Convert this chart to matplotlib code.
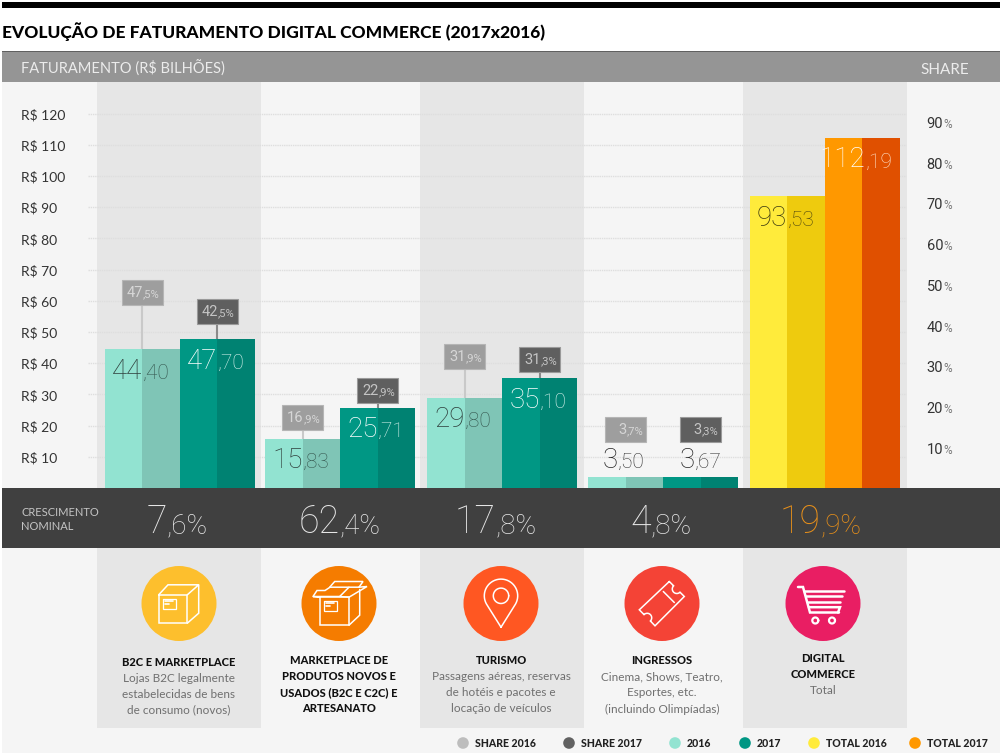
#!/usr/bin/env python3

import numpy as np
import matplotlib

matplotlib.use('Agg')
import matplotlib.pyplot as plt
from matplotlib.patches import Circle, Rectangle

# valores (a barra de 29,80 no original está desenhada mais baixa)
categories = ['B2C', 'Marketplace', 'Turismo', 'Ingressos']
values_2016 = [44.4, 15.83, 28.9, 3.5]
values_2017 = [47.7, 25.71, 35.1, 3.67]
total_2016 = 93.53
total_2017 = 112.19

labels_2016 = [('44', ',40'), ('15', ',83'), ('29', ',80'), ('3', ',50')]
labels_2017 = [('47', ',70'), ('25', ',71'), ('35', ',10'), ('3', ',67')]
share_2016 = [('47', ',5%'), ('16', ',9%'), ('31', ',9%'), ('3', ',7%')]
share_2017 = [('42', ',5%'), ('22', ',9%'), ('31', ',3%'), ('3', ',3%')]
growth = [('7', ',6%'), ('62', ',4%'), ('17', ',8%'), ('4', ',8%'), ('19', ',9%')]

money_ticks = [10, 20, 30, 40, 50, 60, 70, 80, 90, 100, 110, 120]
share_ticks = [10, 20, 30, 40, 50, 60, 70, 80, 90]

card_titles = [
    ['B2C E MARKETPLACE'],
    ['MARKETPLACE DE', 'PRODUTOS NOVOS E', 'USADOS (B2C E C2C) E', 'ARTESANATO'],
    ['TURISMO'],
    ['INGRESSOS'],
    ['DIGITAL', 'COMMERCE'],
]
card_texts = [
    ['Lojas B2C legalmente', 'estabelecidas de bens', 'de consumo (novos)'],
    [],
    ['Passagens aéreas, reservas', 'de hotéis e pacotes e', 'locação de veículos'],
    ['Cinema, Shows, Teatro,', 'Esportes, etc.', '(incluindo Olimpíadas)'],
    ['Total'],
]
legend_names = ['SHARE 2016', 'SHARE 2017', '2016', '2017', 'TOTAL 2016', 'TOTAL 2017']

# layout em pixels da imagem
BASE_Y = 488
PX_PER_REAL = 3.12
PX_PER_SHARE = 4.075
HALF_BAR = 37.5
GROUP_LEFT = [104.5, 265, 427, 588]
TOTAL_LEFT = 749.5
BOX_TOPS_2016 = [280, 405, 344, 417]
BOX_TOPS_2017 = [299, 378, 347, 417]
CARD_CENTERS = [179, 339, 501, 662, 823]
CARD_TITLE_Y = [662, 661, 661, 661, 659]
GROWTH_PIVOT = [167, 340, 496, 651, 821]
LEGEND_DOTS = [463, 569, 675, 745, 814, 915]

FONT = 'Lato'
NUMBER_FONT = 'Roboto'
GRAY_BG = '#f5f5f5'
GRAY_BAND = '#e6e6e6'
DARK_BAR = '#404040'


def split_text(axis, x, y, parts, sizes, colors, weight='light'):
    axis.text(x, y, parts[0], ha='right', va='baseline', family=NUMBER_FONT,
              fontsize=sizes[0], color=colors[0], fontweight=weight)
    axis.text(x, y, parts[1], ha='left', va='baseline', family=NUMBER_FONT,
              fontsize=sizes[1], color=colors[1], fontweight=weight)


def stroke(axis, cx, cy, points, lw=1.1, closed=False):
    points = np.asarray(points, dtype=float)
    if closed:
        points = np.vstack([points, points[0]])
    axis.plot(cx + points[:, 0], cy + points[:, 1], color='white', lw=lw,
              solid_joinstyle='miter', solid_capstyle='round')


def arc(x, y, radius, start, stop):
    angles = np.radians(np.linspace(start, stop, 40))
    return np.column_stack([x + radius * np.cos(angles),
                            y + radius * np.sin(angles)])


def box_rect(x0, y0, x1, y1):
    return [(x0, y0), (x1, y0), (x1, y1), (x0, y1)]


def draw_box(axis, cx, cy):
    stroke(axis, cx, cy, box_rect(-20.3, -8.7, 8.3, 19.7), closed=True)
    stroke(axis, cx, cy, [(-20.3, -8.7), (-11, -18.7), (19.7, -18.7), (8.3, -8.7)])
    stroke(axis, cx, cy, [(19.7, -18.7), (19.7, 9.7), (8.3, 19.7)])
    stroke(axis, cx, cy, box_rect(-16.3, -4.7, -2.7, 5.3), lw=0.9, closed=True)
    stroke(axis, cx, cy, [(-14, -2.5), (-6, -2.5)], lw=1.2)
    stroke(axis, cx, cy, [(-14, 0), (-10, 0)], lw=1.2)


def draw_open_box(axis, cx, cy):
    stroke(axis, cx, cy, box_rect(-19.3, -6.3, 10, 21.7), closed=True)
    stroke(axis, cx, cy, [(10, 21.7), (20.7, 11.7), (20.7, -14)])
    stroke(axis, cx, cy, [(-19.3, -6.3), (-26, -7), (0.7, -7), (10, -6.3)])
    stroke(axis, cx, cy, [(-26, -7), (-22, -13), (-14, -13), (-9, -16.3), (20, -16.3)])
    stroke(axis, cx, cy, [(-9.3, -16.3), (-4.3, -22), (24, -22), (20, -16.3)])
    stroke(axis, cx, cy, [(0.7, -7), (10, -16.3)])
    stroke(axis, cx, cy, [(10, -6.3), (28, -17), (20, -16.3)])
    stroke(axis, cx, cy, box_rect(-15.3, -2.7, -1.7, 7.3), lw=0.9, closed=True)
    stroke(axis, cx, cy, [(-13, -0.5), (-5, -0.5)], lw=1.2)
    stroke(axis, cx, cy, [(-13, 2), (-9, 2)], lw=1.2)


def draw_pin(axis, cx, cy):
    head = arc(0, -7.7, 16.7, 145, 395)
    stroke(axis, cx, cy, np.vstack([[(0, 23.7)], head, [(0, 23.7)]]))
    stroke(axis, cx, cy, arc(0, -7.7, 7.7, 0, 360))


def draw_ticket(axis, cx, cy):
    upper = arc(14.8, -14.5, 4.5, 225, 45)
    lower = arc(-14.8, 14.3, 4.5, 45, -135)
    outline = np.vstack([[(7.3, -22)], upper, [(22.3, -7), (-7, 22.3)],
                         lower, [(-22.7, 6.3)]])
    stroke(axis, cx, cy, outline, closed=True)
    stroke(axis, cx, cy, [(1.3, -12), (12.3, -1)])


def draw_cart(axis, cx, cy):
    stroke(axis, cx, cy, [(-25, -16.5), (-20, -16.5), (-13, 9), (16, 9)], lw=1.8)
    stroke(axis, cx, cy, [(-19, -13), (20.5, -13)], lw=1.8)
    stroke(axis, cx, cy, [(-17, -7.7), (19, -7.7)], lw=1.8)
    stroke(axis, cx, cy, [(-15, -2), (17, -2)], lw=1.8)
    stroke(axis, cx, cy, [(-14, 3.7), (17, 3.7), (15, 9)], lw=1.8)
    stroke(axis, cx, cy, arc(-7.7, 17, 3, 0, 360), lw=1.6)
    stroke(axis, cx, cy, arc(9, 17, 3, 0, 360), lw=1.6)


figure = plt.figure(figsize=(10, 7.53), dpi=100, facecolor='white')

# fundo e elementos em pixels
back = figure.add_axes([0, 0, 1, 1], zorder=0)
back.set_xlim(0, 1000)
back.set_ylim(753, 0)
back.axis('off')

back.add_patch(Rectangle((2, 2), 998, 5.5, color='black', lw=0))
back.add_patch(Rectangle((2, 52), 998, 701, color=GRAY_BG, lw=0))
for left in (97, 420, 742.5):
    back.add_patch(Rectangle((left, 82), 164, 646, color=GRAY_BAND, lw=0))
back.add_patch(Rectangle((2, 52), 998, 30, color='#959595', lw=0))
back.add_patch(Rectangle((2, 51), 998, 1.2, color='#606060', lw=0))
back.add_patch(Rectangle((2, 488), 998, 60, color=DARK_BAR, lw=0))

# barras na escala de valores
chart = figure.add_axes([0, 0, 1, 1], zorder=1)
chart.patch.set_alpha(0)
chart.axis('off')
chart.set_xlim(0, 1000)
chart.set_ylim((BASE_Y - 753) / PX_PER_REAL, BASE_Y / PX_PER_REAL)

chart.hlines(money_ticks, 88, 906, color='#dedede', lw=1.0, linestyles=(0, (1, 0.6)), zorder=1)


def draw_pair(left, value, light, dark):
    chart.bar([left, left + HALF_BAR], [value, value], width=HALF_BAR, align='edge',
              color=[light, dark], lw=0, zorder=3)


for left, value_a, value_b, top_a, top_b in zip(
        GROUP_LEFT, values_2016, values_2017, BOX_TOPS_2016, BOX_TOPS_2017):
    draw_pair(left, value_a, '#92e3d1', '#7fc5b6')
    draw_pair(left + 2 * HALF_BAR, value_b, '#009784', '#008272')
    if value_a > 5:
        chart.vlines(left + HALF_BAR, value_a, (BASE_Y - top_a - 25) / PX_PER_REAL,
                     color='#c9c9c9', lw=1.5, zorder=2)
        chart.vlines(left + 3 * HALF_BAR, value_b, (BASE_Y - top_b - 25) / PX_PER_REAL,
                     color='#8a8a8a', lw=1.5, zorder=2)
draw_pair(TOTAL_LEFT, total_2016, '#ffeb3b', '#eecb0e')
draw_pair(TOTAL_LEFT + 2 * HALF_BAR, total_2017, '#ff9800', '#e05000')

# textos por cima de tudo
top = figure.add_axes([0, 0, 1, 1], zorder=2)
top.patch.set_alpha(0)
top.axis('off')
top.set_xlim(0, 1000)
top.set_ylim(753, 0)

top.text(2, 38, 'EVOLUÇÃO DE FATURAMENTO DIGITAL COMMERCE (2017x2016)', family=FONT,
         fontsize=12.5, fontweight='black', color='black', va='baseline')
top.text(21, 74, 'FATURAMENTO (R$ BILHÕES)', family=FONT, fontsize=10.5,
         color='#ececec', va='baseline')
top.text(920, 74, 'SHARE', family=FONT, fontsize=11, color='#ececec', va='baseline')

for tick in money_ticks:
    top.text(21, BASE_Y + 1.5 - tick * PX_PER_REAL, f'R$ {tick}', family=FONT, fontsize=10,
             color='#333333', va='center')
for tick in share_ticks:
    split_text(top, 943, BASE_Y + 1.7 - tick * PX_PER_SHARE + 5, (str(tick), '%'),
               (10.5, 8.5), ('#333333', '#777777'), weight='normal')

# valores das barras e caixas de share
def value_label(x, value, parts, colors):
    bar_top = BASE_Y - value * PX_PER_REAL
    baseline = bar_top + 29.5 if value > 5 else bar_top - 9
    split_text(top, x, baseline, parts, (20, 15), colors)


def share_box(x, y_top, parts, face, edge, colors):
    top.add_patch(Rectangle((x - 20.5, y_top), 41, 25, facecolor=face, edgecolor=edge, lw=0.8))
    split_text(top, x + 1, y_top + 17, parts, (10.5, 8), colors, weight='normal')


for index, left in enumerate(GROUP_LEFT):
    small = values_2016[index] < 5
    shift_a = -8 if small else 0
    shift_b = -6 if small else 0
    if small:
        colors_a = colors_b = ('#222222', '#333333')
    else:
        colors_a = ('#2f3f3c', '#35574f')
        colors_b = ('#ffffff', '#d8f3ed')
    value_label(left + HALF_BAR + shift_a, values_2016[index], labels_2016[index], colors_a)
    value_label(left + 3 * HALF_BAR + shift_b, values_2017[index], labels_2017[index], colors_b)
    share_box(left + HALF_BAR, BOX_TOPS_2016[index], share_2016[index], '#9e9e9e', '#b5b5b5',
              ('#d6d6d6', '#d6d6d6'))
    share_box(left + 3 * HALF_BAR, BOX_TOPS_2017[index], share_2017[index], '#5f5f5f', '#9a9a9a',
              ('#c4c4c4', '#c4c4c4'))

value_label(TOTAL_LEFT + HALF_BAR, total_2016, ('93', ',53'), ('#3c3a10', '#4a4410'))
value_label(TOTAL_LEFT + 3 * HALF_BAR + 3, total_2017, ('112', ',19'), ('#ffffff', '#ffe3cc'))

# faixa de crescimento
top.text(21, 515.5, 'CRESCIMENTO', family=FONT, fontsize=8, color='#c4c4c4', va='baseline')
top.text(21, 530.5, 'NOMINAL', family=FONT, fontsize=8, color='#c4c4c4', va='baseline')
for index, (pivot, parts) in enumerate(zip(GROWTH_PIVOT, growth)):
    color = '#e8901a' if index == 4 else '#e6e6e6'
    split_text(top, pivot, 533, parts, (27, 20), (color, color))

# cartões com ícones
icon_colors = ['#fdbf2d', '#f57c00', '#ff5722', '#f44336', '#e91e63']
icon_drawers = [draw_box, draw_open_box, draw_pin, draw_ticket, draw_cart]
for center, color, drawer in zip(CARD_CENTERS, icon_colors, icon_drawers):
    top.add_patch(Circle((center, 603.5), 37.5, color=color, lw=0))
    drawer(top, center, 603.5)

for center, title_y, titles, lines in zip(CARD_CENTERS, CARD_TITLE_Y, card_titles, card_texts):
    row_y = title_y
    for line in titles:
        top.text(center, row_y, line, family=FONT, fontsize=8, fontweight='black',
                 color='#111111', ha='center', va='center')
        row_y += 16
    for line in lines:
        top.text(center, row_y, line, family=FONT, fontsize=8.5, color='#6f6f6f',
                 ha='center', va='center')
        row_y += 16

# legenda
legend_colors = ['#bdbdbd', '#616161', '#92e3d1', '#009784', '#ffeb3b', '#ff9800']
for dot_x, color, name in zip(LEGEND_DOTS, legend_colors, legend_names):
    top.add_patch(Circle((dot_x, 743), 5.8, color=color, lw=0))
    top.text(dot_x + 12, 743.5, name, family=FONT, fontsize=7.6, fontweight='black',
             color='#222222', va='center')

figure.savefig('out.png', dpi=100)
plt.close(figure)
